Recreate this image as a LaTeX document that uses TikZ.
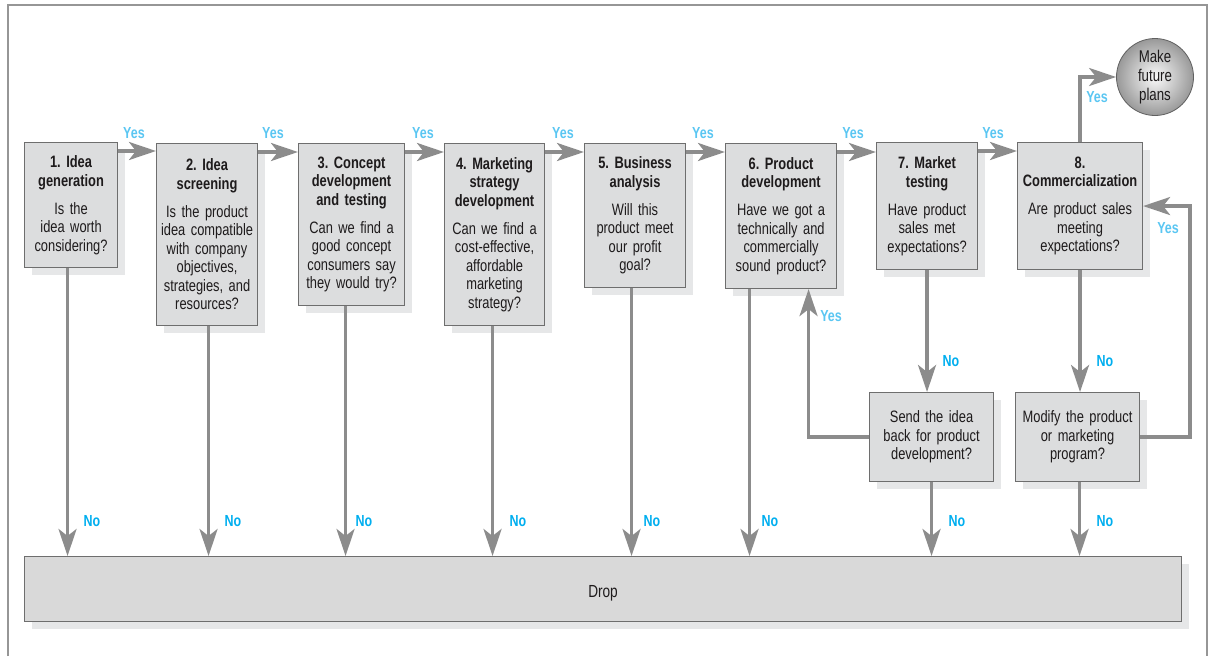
\documentclass[tikz,border=0pt]{standalone}
\usepackage{fontspec}
\setmainfont{Liberation Sans}[FakeStretch=0.78]
\usetikzlibrary{arrows.meta,shadows,calc}

\definecolor{framegray}{RGB}{150,150,150}
\definecolor{boxfill}{RGB}{220,221,222}
\definecolor{dropfill}{RGB}{217,217,217}
\definecolor{boxline}{RGB}{110,110,110}
\definecolor{shadowgray}{RGB}{230,231,232}
\definecolor{arrowgray}{RGB}{140,140,140}
\definecolor{textdark}{RGB}{30,27,28}
\definecolor{yesblue}{RGB}{90,198,242}
\definecolor{noblue}{RGB}{0,174,239}

\tikzset{
  stagebox/.style={draw=boxline, line width=1.1pt, fill=boxfill, anchor=north west,
    inner xsep=1pt, inner ysep=0pt, align=center, text=textdark,
    font=\fontsize{16.5}{18.5}\selectfont,
    drop shadow={shadow xshift=7pt, shadow yshift=-7pt, fill=shadowgray, opacity=1}},
  flowarrow/.style={draw=arrowgray, line width=3.6pt,
    -{Stealth[length=27pt, width=18pt, inset=7pt]}},
  yeslab/.style={text=yesblue, font=\fontsize{16}{16}\selectfont\bfseries},
  nolab/.style={text=noblue, font=\fontsize{16}{16}\selectfont\bfseries, anchor=west},
}

\begin{document}
\frenchspacing
\begin{tikzpicture}[x=1pt,y=-1pt]
\useasboundingbox (0,0) rectangle (1210,656);

% open frame around the chart
\draw[framegray, line width=1.6pt] (8,656) -- (8,5) -- (1207,5) -- (1207,656);

% stage boxes
\node[stagebox, minimum width=93pt, minimum height=125pt, text width=91pt] (b1) at (24,142)
  {\bfseries 1. Idea\\generation\\[9.5pt]\mdseries Is the\\idea worth\\considering?};
\node[stagebox, minimum width=101pt, minimum height=182pt, text width=99pt] (b2) at (156,143)
  {\bfseries 2. Idea\\screening\\[9.5pt]\mdseries Is the product\\idea compatible\\with company\\objectives,\\strategies, and\\resources?};
\node[stagebox, minimum width=106pt, minimum height=162pt, text width=104pt] (b3) at (298,143)
  {\bfseries 3. Concept\\development\\and testing\\[9.5pt]\mdseries Can we find a\\good concept\\consumers say\\they would try?};
\node[stagebox, minimum width=100pt, minimum height=182pt, text width=98pt] (b4) at (444,143)
  {\bfseries 4. Marketing\\strategy\\development\\[9.5pt]\mdseries Can we find a\\cost-effective,\\affordable\\marketing\\strategy?};
\node[stagebox, minimum width=101pt, minimum height=144pt, text width=99pt] (b5) at (584,143)
  {\bfseries 5. Business\\analysis\\[9.5pt]\mdseries Will this\\product meet\\our profit\\goal?};
\node[stagebox, minimum width=111pt, minimum height=145pt, text width=109pt] (b6) at (725,143)
  {\bfseries 6. Product\\development\\[9.5pt]\mdseries Have we got a\\technically and\\commercially\\sound product?};
\node[stagebox, minimum width=101pt, minimum height=127pt, text width=99pt] (b7) at (876,142)
  {\bfseries 7. Market\\testing\\[9.5pt]\mdseries Have product\\sales met\\expectations?};
\node[stagebox, minimum width=125pt, minimum height=127pt, text width=123pt] (b8) at (1017,142)
  {\bfseries 8.\\Commercialization\\[9.5pt]\mdseries Are product sales\\meeting\\expectations?};

% follow-up decision boxes
\node[stagebox, minimum width=124pt, minimum height=89pt, text width=122pt] (send) at (869,392)
  {Send the idea\\back for product\\development?};
\node[stagebox, minimum width=124pt, minimum height=89pt, text width=122pt] (modify) at (1015,392)
  {Modify the product\\or marketing\\program?};

% drop bar
\node[stagebox, fill=dropfill, minimum width=1157pt, minimum height=65pt, text width=1150pt,
      font=\fontsize{17.5}{20}\selectfont] (drop) at (24,556)
  {\raisebox{-8.5pt}[0pt][0pt]{Drop}};

% end state
\node[circle, minimum size=77pt, inner sep=0pt, draw=gray!75!black, line width=0.8pt,
      shading=radial, inner color=gray!4, outer color=gray!80,
      align=center, text=textdark,
      font=\fontsize{17}{19}\selectfont] (plans) at (1155,77)
  {Make\\future\\plans};

% "yes" path along the stages
\foreach \a/\b in {b1/b2, b2/b3, b3/b4, b4/b5, b5/b6, b6/b7, b7/b8}
  \draw[flowarrow] ([yshift=-9pt]\a.north east) -- ([yshift=-9pt]\a.north east -| \b.west);
\foreach \x in {134,273,423,563,703,853,993}
  \node[yeslab] at (\x,133) {Yes};

% "no" paths into the drop bar
\draw[flowarrow] ([xshift=-3.5pt]b1.south) -- ([xshift=-3.5pt]b1.south |- drop.north);
\draw[flowarrow] ([xshift=1.5pt]b2.south) -- ([xshift=1.5pt]b2.south |- drop.north);
\draw[flowarrow] ([xshift=-6pt]b3.south) -- ([xshift=-6pt]b3.south |- drop.north);
\draw[flowarrow] ([xshift=-2pt]b4.south) -- ([xshift=-2pt]b4.south |- drop.north);
\draw[flowarrow] ([xshift=-3.5pt]b5.south) -- ([xshift=-3.5pt]b5.south |- drop.north);
\draw[flowarrow] ([xshift=-31.5pt]b6.south) -- ([xshift=-31.5pt]b6.south |- drop.north);
\draw[flowarrow] (send.south) -- (send.south |- drop.north);
\draw[flowarrow] ([xshift=2pt]modify.south) -- ([xshift=2pt]modify.south |- drop.north);
\foreach \x in {80,221,352,506,640,758,945,1093}
  \node[nolab] at (\x,521) {No};

% market testing and commercialization branches
\draw[flowarrow] (b7.south) -- (b7.south |- send.north);
\node[nolab] at (939,361) {No};
\draw[flowarrow] (b8.south) -- (b8.south |- modify.north);
\node[nolab] at (1093,361) {No};

% loops back
\draw[flowarrow] (send.west) -| ([xshift=27.5pt]b6.south);
\node[yeslab] at (831,316) {Yes};
\draw[flowarrow] (modify.east) -- ++(50,0) |- (b8.east);
\node[yeslab] at (1168,228) {Yes};

% success to future plans
\draw[flowarrow] (b8.north) |- (plans.west);
\node[yeslab] at (1097,97) {Yes};
\end{tikzpicture}
\end{document}
